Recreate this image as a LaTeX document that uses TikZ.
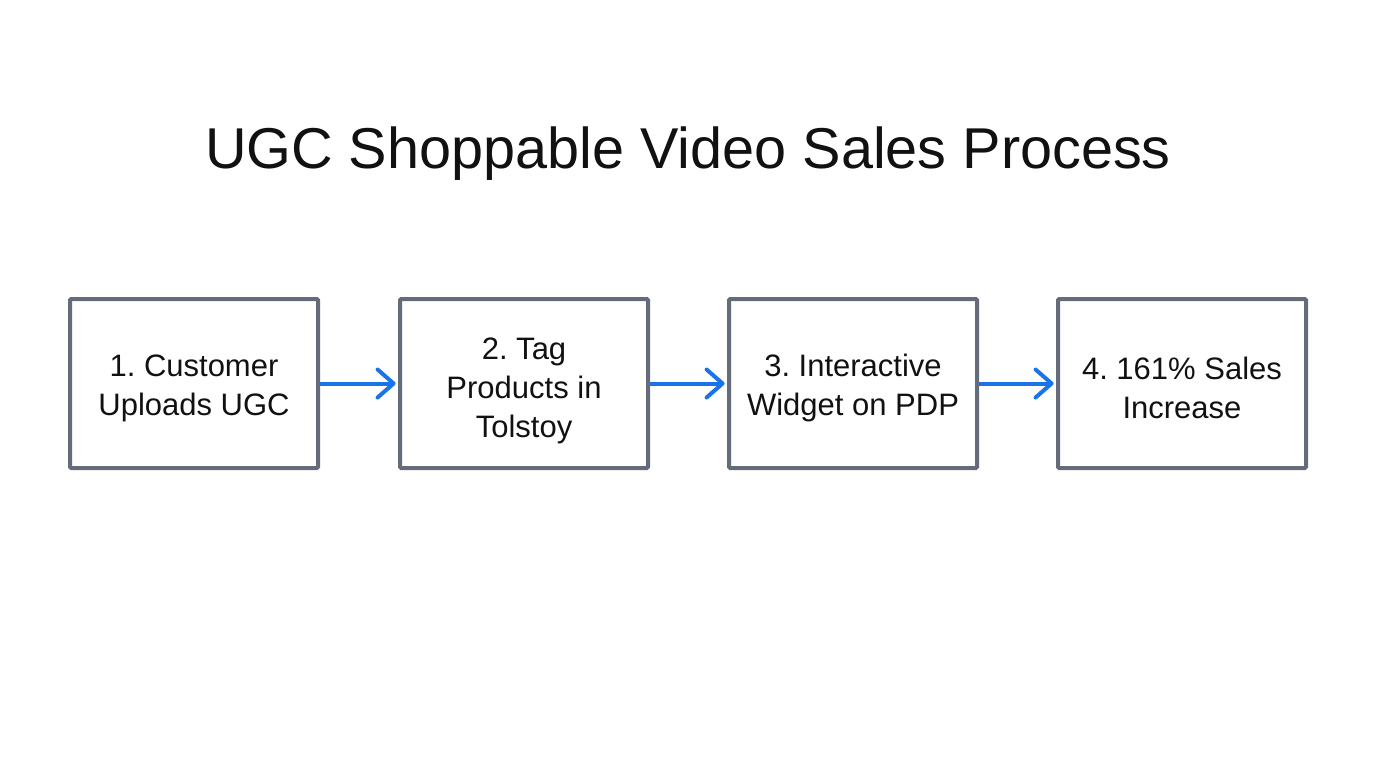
\documentclass[tikz,border=0pt]{standalone}
\usepackage{fontspec}
\setmainfont{Liberation Sans}
\usetikzlibrary{arrows.meta}
\definecolor{boxgray}{HTML}{646B7A}
\definecolor{arrowblue}{HTML}{1A73E8}
\definecolor{txt}{HTML}{111111}
\frenchspacing
\tikzset{
  stepbox/.style={draw=boxgray, line width=2pt, rounded corners=0.6pt, minimum width=124pt, minimum height=84.5pt, inner sep=0pt, align=center, text=txt, font=\fontsize{15.5}{19.5}\selectfont},
  steptext/.style={align=center, text=txt, font=\fontsize{15.5}{19.5}\selectfont, inner sep=0pt},
  flow/.style={draw=arrowblue, line width=2pt, -{Straight Barb[length=8pt,width=14pt,line cap=round,line join=round]}, shorten >=1.2pt},
  titletext/.style={text=txt, font=\fontsize{28.8}{34}\selectfont}
}
\begin{document}
\begin{tikzpicture}[x=0.5pt,y=-0.5pt]
\useasboundingbox (0,0) rectangle (1376,768);
\node[titletext] (title) at (688,154) {UGC Shoppable Video Sales Process};
\node[stepbox] (s1) at (194,383.5) {};
\node[stepbox] (s2) at (524,383.5) {};
\node[stepbox] (s3) at (853,383.5) {};
\node[stepbox] (s4) at (1182,383.5) {};
\node[steptext] (t1) at (194,388) {1. Customer\\Uploads UGC};
\node[steptext] (t2) at (524,391) {2. Tag\\Products in\\Tolstoy};
\node[steptext] (t3) at (853,388) {3. Interactive\\Widget on PDP};
\node[steptext] (t4) at (1182,388) {4. 161\% Sales\\Increase};
\draw[flow] (s1.east) -- (s2.west);
\draw[flow] (s2.east) -- (s3.west);
\draw[flow] (s3.east) -- (s4.west);
\end{tikzpicture}
\end{document}
